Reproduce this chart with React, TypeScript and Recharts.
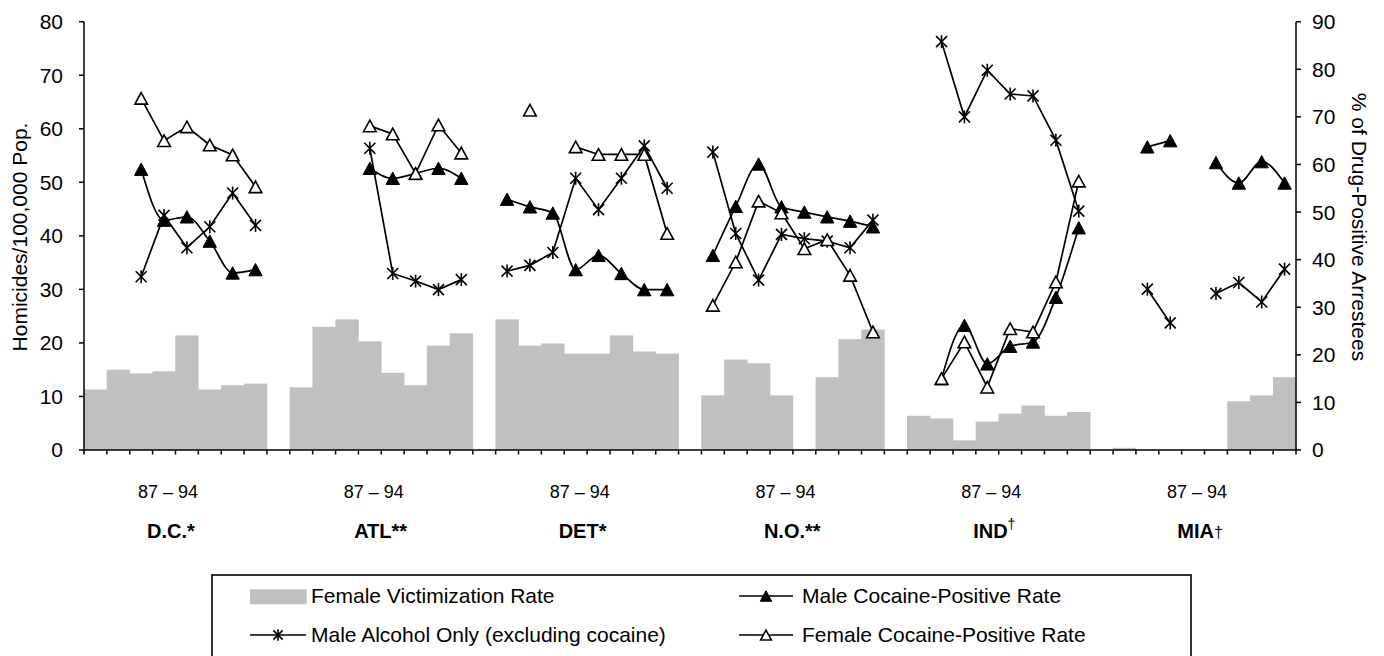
import React from "react";
import { ComposedChart, Bar, Line, XAxis, YAxis } from "recharts";

// categories
const years = ["87", "88", "89", "90", "91", "92", "93", "94"];
const cities = ["D.C.", "ATL", "DET", "N.O.", "IND", "MIA"];
const citySuffix = ["*", "**", "*", "**", "†", "†"];
const yearRange = "87 – 94";
const leftTicks = [0, 10, 20, 30, 40, 50, 60, 70, 80];
const rightTicks = [0, 10, 20, 30, 40, 50, 60, 70, 80, 90];

// Female victimization rate (homicides / 100,000), one row per city, 87..94
const victimRate: (number | null)[][] = [
  [11.3, 15.0, 14.3, 14.7, 21.4, 11.3, 12.1, 12.4],
  [11.7, 23.0, 24.4, 20.3, 14.4, 12.1, 19.5, 21.8],
  [24.4, 19.5, 19.9, 18.0, 18.0, 21.4, 18.4, 18.0],
  [10.2, 16.9, 16.2, 10.2, null, 13.6, 20.7, 22.5],
  [6.4, 5.9, 1.8, 5.3, 6.8, 8.3, 6.4, 7.1],
  [0.4, null, null, null, null, 9.1, 10.2, 13.6],
];

// % of drug-positive arrestees
const maleCocaine: (number | null)[][] = [
  [null, null, 59.0, 48.3, 49.0, 43.9, 37.2, 37.9],
  [null, null, null, 59.2, 57.1, 58.1, 59.2, 57.1],
  [52.7, 51.1, 49.8, 37.9, 40.9, 37.1, 33.7, 33.7],
  [40.9, 51.2, 60.1, 51.1, 50.0, 49.0, 48.1, 46.9],
  [null, 15.0, 26.2, 18.1, 21.8, 22.7, 32.1, 46.7],
  [null, 63.7, 65.0, null, 60.4, 56.1, 60.6, 56.1],
];

const maleAlcohol: (number | null)[][] = [
  [null, null, 36.4, 49.3, 42.5, 46.9, 54.0, 47.2],
  [null, null, null, 63.4, 37.1, 35.5, 33.7, 35.8],
  [37.6, 38.8, 41.5, 57.1, 50.5, 57.1, 63.9, 55.0],
  [62.6, 45.5, 35.7, 45.3, 44.4, 43.9, 42.5, 48.3],
  [null, 85.8, 70.0, 79.8, 74.8, 74.4, 65.1, 50.2],
  [null, 33.8, 26.7, null, 32.9, 35.2, 31.1, 38.0],
];

const femaleCocaine: (number | null)[][] = [
  [null, null, 73.9, 65.0, 67.9, 64.1, 62.0, 55.3],
  [null, null, null, 68.1, 66.4, 58.1, 68.3, 62.4],
  [null, 71.4, null, 63.7, 62.1, 62.1, 62.1, 45.5],
  [30.4, 39.5, 52.3, 49.8, 42.3, 44.2, 36.7, 24.8],
  [null, 15.0, 22.7, 13.2, 25.5, 24.8, 35.3, 56.5],
  [null, null, null, null, null, null, null, null],
];

type Row = {
  key: string;
  city: number;
  slot: number;
  victim: number | null;
  maleCoc: number | null;
  alcohol: number | null;
  femCoc: number | null;
};

const rows: Row[] = [];
cities.forEach((city, c) => {
  years.forEach((yr, s) => {
    rows.push({
      key: `${city}-${yr}`,
      city: c,
      slot: s,
      victim: victimRate[c][s],
      maleCoc: maleCocaine[c][s],
      alcohol: maleAlcohol[c][s],
      femCoc: femaleCocaine[c][s],
    });
  });
  if (c < cities.length - 1) {
    rows.push({ key: `gap-${c}`, city: -1, slot: -1, victim: null, maleCoc: null, alcohol: null, femCoc: null });
  }
});

const W = 1384;
const H = 656;
const PLOT_LEFT = 84;
const PLOT_RIGHT = 1296;
const PLOT_TOP = 21.7;
const PLOT_BOTTOM = 450;
const band = (PLOT_RIGHT - PLOT_LEFT) / rows.length;
const FONT = '"Liberation Sans", Arial, Helvetica, sans-serif';

function FilledTri({ cx, cy, size = 1 }: { cx: number; cy: number; size?: number }) {
  const w = 6.7 * size;
  const h = 6.2 * size;
  return <polygon points={`${cx},${cy - h} ${cx + w},${cy + h} ${cx - w},${cy + h}`} fill="#000" stroke="#000" strokeWidth={1} />;
}

function OpenTri({ cx, cy, size = 1 }: { cx: number; cy: number; size?: number }) {
  const w = 6.3 * size;
  const h = 5.8 * size;
  return <polygon points={`${cx},${cy - h} ${cx + w},${cy + h} ${cx - w},${cy + h}`} fill="#fff" stroke="#000" strokeWidth={1.6} />;
}

function Star({ cx, cy, size = 1 }: { cx: number; cy: number; size?: number }) {
  const r = 5.5 * size;
  return (
    <g stroke="#000" strokeWidth={1.6}>
      <line x1={cx - r} y1={cy - r} x2={cx + r} y2={cy + r} />
      <line x1={cx - r} y1={cy + r} x2={cx + r} y2={cy - r} />
      <line x1={cx} y1={cy - r - 1} x2={cx} y2={cy + r + 1} />
    </g>
  );
}

const makeDot = (Shape: typeof Star) => (props: any) => {
  const { cx, cy, value, index } = props;
  if (cx == null || cy == null || value == null || Number.isNaN(cy)) return <g key={`d-${index}`} />;
  return (
    <g key={`d-${index}`}>
      <Shape cx={cx} cy={cy} />
    </g>
  );
};

function BarShape(props: any) {
  const { x, y, width, height } = props;
  if (height == null || height <= 0) return <g />;
  const center = x + width / 2;
  return <rect x={center - band / 2 - 0.25} y={y} width={band + 0.5} height={height} fill="#C0C0C0" />;
}

function CategoryTick(props: any) {
  const { x, y } = props;
  const index = props.index ?? props.payload?.index ?? 0;
  const row = rows[index];
  const left = x - band / 2;
  const c = row ? row.city : -1;
  let label: React.ReactNode = null;
  if (row && row.slot === 3) {
    const suffix = citySuffix[c];
    const suffixW = suffix === "†" ? 8 : suffix.length * 7.8;
    label = (
      <g>
        <text x={x + 4} y={y + 48} textAnchor="middle" fontSize={18} fill="#000">
          {yearRange}
        </text>
        <text x={x + 3 + suffixW / 2} y={y + 88} textAnchor="middle" fontSize={20} fontWeight="bold" fill="#000">
          {cities[c]}
          {c === 4 ? (
            <tspan fontSize={14} fontWeight="normal" dy={-9}>
              {suffix}
            </tspan>
          ) : c === 5 ? (
            <tspan fontSize={16} fontWeight="normal">
              {suffix}
            </tspan>
          ) : (
            suffix
          )}
        </text>
      </g>
    );
  }
  return (
    <g>
      <line x1={left} x2={left} y1={y} y2={y + 4.5} stroke="#000" strokeWidth={1.5} />
      {index === rows.length - 1 && <line x1={x + band / 2} x2={x + band / 2} y1={y} y2={y + 4.5} stroke="#000" strokeWidth={1.5} />}
      {label}
    </g>
  );
}

function Overlay() {
  const boxL = 212;
  const boxT = 575;
  const boxR = 1191;
  return (
    <svg width={W} height={H} style={{ position: "absolute", left: 0, top: 0, pointerEvents: "none" }} fontFamily={FONT}>
      <text transform="translate(27,237) rotate(-90)" textAnchor="middle" fontSize={21} fill="#000">
        Homicides/100,000 Pop.
      </text>
      <text transform="translate(1352,227) rotate(90)" textAnchor="middle" fontSize={21} fill="#000">
        % of Drug-Positive Arrestees
      </text>
      <rect x={boxL} y={boxT} width={boxR - boxL} height={120} fill="none" stroke="#000" strokeWidth={1.6} />
      {/* row 1 */}
      <rect x={250} y={589.3} width={56.7} height={15} fill="#C0C0C0" />
      <text x={311} y={603} fontSize={21} fill="#000">
        Female Victimization Rate
      </text>
      <line x1={739} x2={793} y1={596} y2={596} stroke="#000" strokeWidth={1.6} />
      <FilledTri cx={766} cy={596} size={0.85} />
      <text x={802} y={603} fontSize={21} fill="#000">
        Male Cocaine-Positive Rate
      </text>
      {/* row 2 */}
      <line x1={250} x2={306} y1={635} y2={635} stroke="#000" strokeWidth={1.6} />
      <Star cx={278} cy={635} size={0.85} />
      <text x={311} y={642} fontSize={21} fill="#000">
        Male Alcohol Only (excluding cocaine)
      </text>
      <line x1={739} x2={793} y1={635} y2={635} stroke="#000" strokeWidth={1.6} />
      <OpenTri cx={766} cy={635} size={0.85} />
      <text x={802} y={642} fontSize={21} fill="#000">
        Female Cocaine-Positive Rate
      </text>
    </svg>
  );
}

export default function App() {
  return (
    <div style={{ position: "absolute", left: 0, top: 0, width: W, height: H, background: "#fff", fontFamily: FONT }}>
      <ComposedChart
        width={W}
        height={H}
        data={rows}
        margin={{ top: PLOT_TOP, right: 0, bottom: 0, left: 0 }}
        barCategoryGap={0}
        barGap={0}
      >
        <XAxis
          dataKey="key"
          xAxisId={0}
          height={H - PLOT_BOTTOM}
          interval={0}
          tickLine={false}
          tickSize={0}
          tickMargin={0}
          axisLine={{ stroke: "#000", strokeWidth: 1.5 }}
          tick={<CategoryTick />}
        />
        <YAxis
          yAxisId="left"
          orientation="left"
          width={PLOT_LEFT}
          domain={[0, 80]}
          ticks={leftTicks}
          interval={0}
          tickSize={5}
          tickMargin={16}
          axisLine={{ stroke: "#000", strokeWidth: 1.5 }}
          tickLine={{ stroke: "#000", strokeWidth: 1.5 }}
          tick={{ fill: "#000", fontSize: 21 }}
        />
        <YAxis
          yAxisId="right"
          orientation="right"
          width={W - PLOT_RIGHT}
          domain={[0, 90]}
          ticks={rightTicks}
          interval={0}
          tickSize={5}
          tickMargin={11}
          axisLine={{ stroke: "#000", strokeWidth: 1.5 }}
          tickLine={{ stroke: "#000", strokeWidth: 1.5 }}
          tick={{ fill: "#000", fontSize: 21 }}
        />
        <Bar yAxisId="left" dataKey="victim" fill="#C0C0C0" shape={<BarShape />} isAnimationActive={false} />
        <Line
          yAxisId="right"
          dataKey="maleCoc"
          type="monotone"
          stroke="#000"
          strokeWidth={1.7}
          dot={makeDot(FilledTri)}
          activeDot={false}
          isAnimationActive={false}
        />
        <Line
          yAxisId="right"
          dataKey="alcohol"
          type="linear"
          stroke="#000"
          strokeWidth={1.7}
          dot={makeDot(Star)}
          activeDot={false}
          isAnimationActive={false}
        />
        <Line
          yAxisId="right"
          dataKey="femCoc"
          type="linear"
          stroke="#000"
          strokeWidth={1.7}
          dot={makeDot(OpenTri)}
          activeDot={false}
          isAnimationActive={false}
        />
      </ComposedChart>
      <Overlay />
    </div>
  );
}
